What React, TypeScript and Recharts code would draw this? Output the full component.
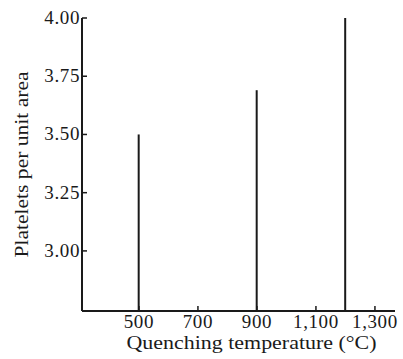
import { ComposedChart, Bar, XAxis, YAxis } from 'recharts';

const temperatures = [500, 900, 1200];
const platelets = [3.5, 3.69, 4.0];
const xTicks = [500, 700, 900, 1100, 1300];
const yTicks = [3.0, 3.25, 3.5, 3.75, 4.0];

const data = temperatures.map((t, i) => ({ temp: t, value: platelets[i] }));

const FONT = '"Liberation Serif", "DejaVu Serif", serif';
const INK = '#1a1a1a';

// tick mark drawn inward (to the right of the axis) + label
function YTick(props: any) {
  const { x, y, payload } = props;
  return (
    <g>
      <line x1={x + 2} x2={x + 7} y1={y} y2={y} stroke={INK} strokeWidth={1.5} />
      <text x={x} y={y} dy={6} textAnchor="end" fontSize={19} letterSpacing={0.6} fontFamily={FONT} fill={INK}>
        {payload.value.toFixed(2)}
      </text>
    </g>
  );
}

// tick mark drawn inward (upwards) + label
function XTick(props: any) {
  const { x, y, payload } = props;
  return (
    <g>
      <line x1={x} x2={x} y1={y - 3} y2={y - 8} stroke={INK} strokeWidth={1.5} />
      <text x={x} y={y} dy={14} textAnchor="middle" fontSize={19} letterSpacing={0.6} fontFamily={FONT} fill={INK}>
        {payload.value.toLocaleString('en-US')}
      </text>
    </g>
  );
}

function XTitle(props: any) {
  const { viewBox } = props;
  const cx = viewBox.x + viewBox.width / 2 + 13;
  return (
    <text
      x={cx}
      y={viewBox.y + 38}
      textAnchor="middle"
      fontSize={19}
      fontFamily={FONT}
      fill={INK}
      textLength={250}
      lengthAdjust="spacingAndGlyphs"
    >
      Quenching temperature (°C)
    </text>
  );
}

function YTitle(props: any) {
  const { viewBox } = props;
  const cy = viewBox.y + viewBox.height / 2;
  const cx = 28;
  return (
    <text
      x={cx}
      y={cy}
      transform={`rotate(-90, ${cx}, ${cy})`}
      textAnchor="middle"
      fontSize={18}
      fontFamily={FONT}
      fill={INK}
      textLength={186}
      lengthAdjust="spacingAndGlyphs"
    >
      Platelets per unit area
    </text>
  );
}

export default function App() {
  return (
    <div style={{ position: 'absolute', left: 0, top: 0, background: '#fff' }}>
      <ComposedChart
        width={403}
        height={359}
        data={data}
        margin={{ top: 18, right: 8, left: 0, bottom: 0 }}
      >
        <XAxis
          dataKey="temp"
          type="number"
          domain={[307, 1368]}
          ticks={xTicks}
          tick={<XTick />}
          tickSize={0}
          tickMargin={3}
          height={48}
          axisLine={{ stroke: INK, strokeWidth: 2 }}
          tickLine={false}
          allowDataOverflow
          label={<XTitle />}
        />
        <YAxis
          type="number"
          domain={[2.742, 4.0]}
          ticks={yTicks}
          tick={<YTick />}
          tickSize={0}
          tickMargin={2}
          width={82}
          axisLine={{ stroke: INK, strokeWidth: 2 }}
          tickLine={false}
          allowDataOverflow
          label={<YTitle />}
        />
        <Bar dataKey="value" fill={INK} barSize={2} isAnimationActive={false} />
      </ComposedChart>
    </div>
  );
}
